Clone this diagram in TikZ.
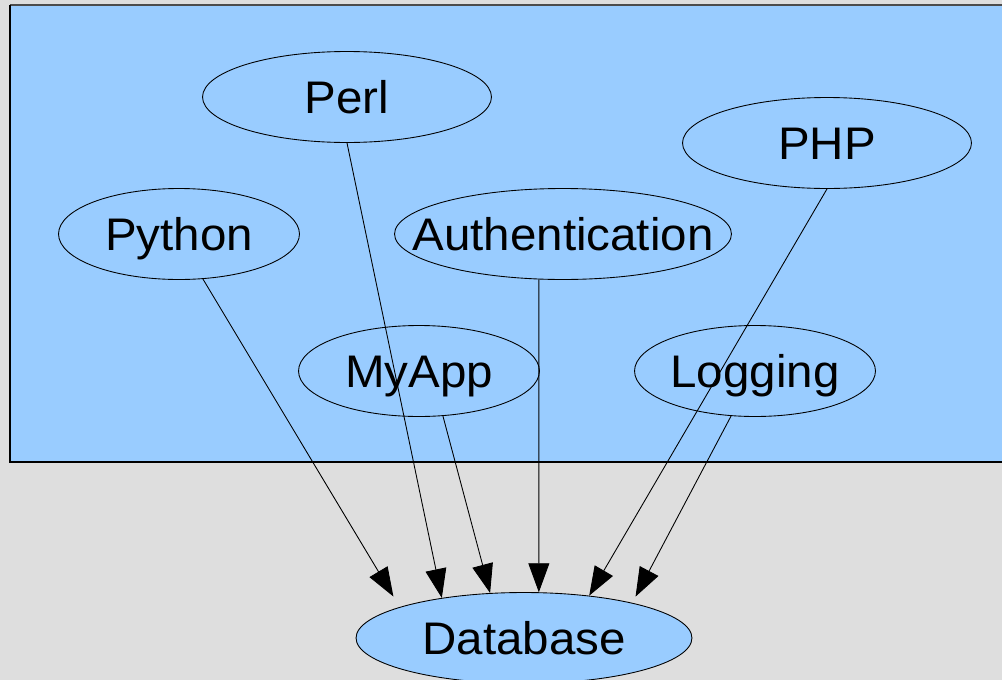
\documentclass[tikz,border=0pt]{standalone}
\usepackage{fontspec}
\setmainfont{Liberation Sans}[FakeStretch=1.04]
\usetikzlibrary{arrows.meta,shapes.geometric}
\definecolor{paleblue}{HTML}{99CCFF}
\definecolor{canvas}{HTML}{DEDEDE}
\begin{document}
\begin{tikzpicture}[x=0.02cm,y=-0.02cm,
  >={Triangle[length=0.58cm,width=0.42cm]},
  lang/.style={ellipse,draw,line width=0.5pt,minimum height=1.82cm,inner sep=0pt},
  every label/.style={font=\fontsize{26}{30}\selectfont,inner sep=0pt,
    text height=18.7pt,text depth=0pt}]
\useasboundingbox (0,0) rectangle (1002,680);
\fill[canvas] (0,0) rectangle (1002,680);
\fill[paleblue] (10,5) rectangle (1010,462);
\draw[black!70,line width=0.6pt] (1010,5) -- (10,5);
\draw[line width=0.6pt] (10,5) -- (10,462) -- (1010,462);
\node[lang,minimum width=5.78cm,label=center:Perl]           (perl)    at (347,97)  {};
\node[lang,minimum width=5.78cm,label=center:PHP]            (php)     at (827,143) {};
\node[lang,minimum width=4.82cm,label=center:Python]         (python)  at (179,234) {};
\node[lang,minimum width=6.74cm,label=center:Authentication] (auth)    at (563,234) {};
\node[lang,minimum width=4.82cm,label=center:MyApp]          (myapp)   at (419,371) {};
\node[lang,minimum width=4.82cm,label=center:Logging]        (logging) at (755,371) {};
\node[lang,fill=paleblue,minimum width=6.72cm,label=center:Database] (db) at (524,638) {};
\draw[->,line width=0.5pt,shorten >=0.245cm] (python.-62) -- (db.166);
\draw[->,line width=0.5pt] (perl.south) -- (db.154);
\draw[->,line width=0.5pt] (myapp.-62) -- (db.127);
\draw[->,line width=0.5pt] (auth.-118) -- (db.72);
\draw[->,line width=0.5pt] (php.south) -- (db.33);
\draw[->,line width=0.5pt,shorten >=0.14cm] (logging.-118) -- (db.18);
\end{tikzpicture}
\end{document}
